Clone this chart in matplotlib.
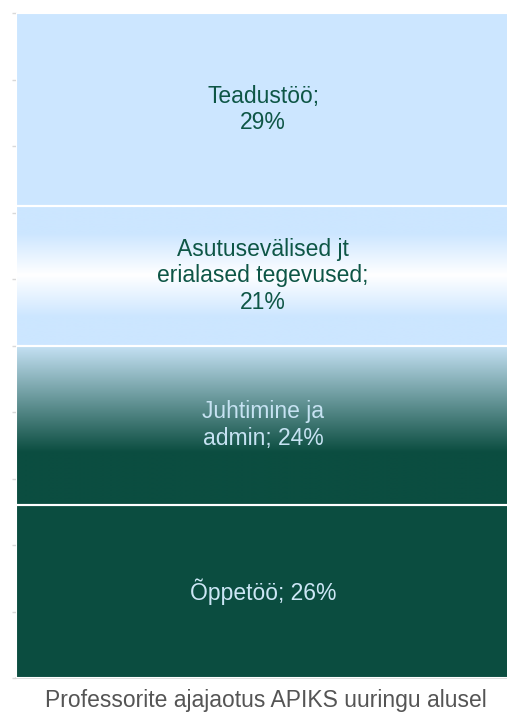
import numpy as np
import matplotlib.pyplot as plt
from matplotlib.colors import LinearSegmentedColormap

plt.rcParams['font.family'] = ['Liberation Sans', 'DejaVu Sans']

# data, bottom to top
labels = ['Õppetöö; 26%', 'Juhtimine ja\nadmin; 24%',
          'Asutusevälised jt\nerialased tegevused;\n21%', 'Teadustöö;\n29%']
values = [26, 24, 21, 29]
title = 'Professorite ajajaotus APIKS uuringu alusel'

light = '#CCE6FF'
dark = '#0B4D40'
text_colors = ['#CCE6F5', '#C6E2F2', '#0E5646', '#0E5646']

# gradient per segment (bottom -> top), None = solid
grads = [
    None,
    [(0.0, dark), (0.33, dark), (1.0, '#C6E2F5')],
    [(0.0, light), (0.2, light), (0.5, '#FFFFFF'), (0.8, light), (1.0, light)],
    None,
]
solid = [dark, dark, light, light]

fig = plt.figure(figsize=(5.07, 7.13), dpi=100)
ax = fig.add_axes([16 / 507, 35 / 713, 494 / 507, 665 / 713])

bottoms = np.concatenate([[0], np.cumsum(values)[:-1]])
bars = ax.bar(0, values, bottom=bottoms, width=1.0, color=solid,
              linewidth=0, zorder=2)

for bar, g in zip(bars, grads):
    if g is None:
        continue
    cmap = LinearSegmentedColormap.from_list('g', g)
    x0, y0 = bar.get_x(), bar.get_y()
    w, h = bar.get_width(), bar.get_height()
    grad = np.linspace(0, 1, 256).reshape(-1, 1)
    im = ax.imshow(grad, cmap=cmap, aspect='auto', origin='lower',
                   extent=[x0, x0 + w, y0, y0 + h], zorder=3,
                   interpolation='bilinear')
    im.set_clip_path(bar)

# white separators on top
ax.bar(0, values, bottom=bottoms, width=1.0, facecolor='none',
       edgecolor='white', linewidth=1.5, zorder=4)

for b, v, lab, c in zip(bottoms, values, labels, text_colors):
    ax.text(0, b + v / 2, lab, ha='center', va='center', fontsize=16.5,
            color=c, zorder=5, linespacing=1.2)

ax.set_xlim(-0.5, 0.5)
ax.set_ylim(0, 100)
ax.set_yticks(np.arange(0, 101, 10))
ax.set_yticklabels([])
ax.set_xticks([])
ax.tick_params(axis='y', length=3, color='#D9D9D9', width=1)
ax.yaxis.grid(True, color='#D9D9D9', linewidth=1, zorder=0)
ax.set_axisbelow(True)
for s in ['left', 'right', 'top']:
    ax.spines[s].set_visible(False)
ax.spines['bottom'].set_color('#D9D9D9')
ax.spines['bottom'].set_linewidth(1.2)

fig.text(266 / 507, 6 / 713, title, ha='center', va='baseline',
         fontsize=16.5, color='#555555')

fig.savefig('out.png', dpi=100)
